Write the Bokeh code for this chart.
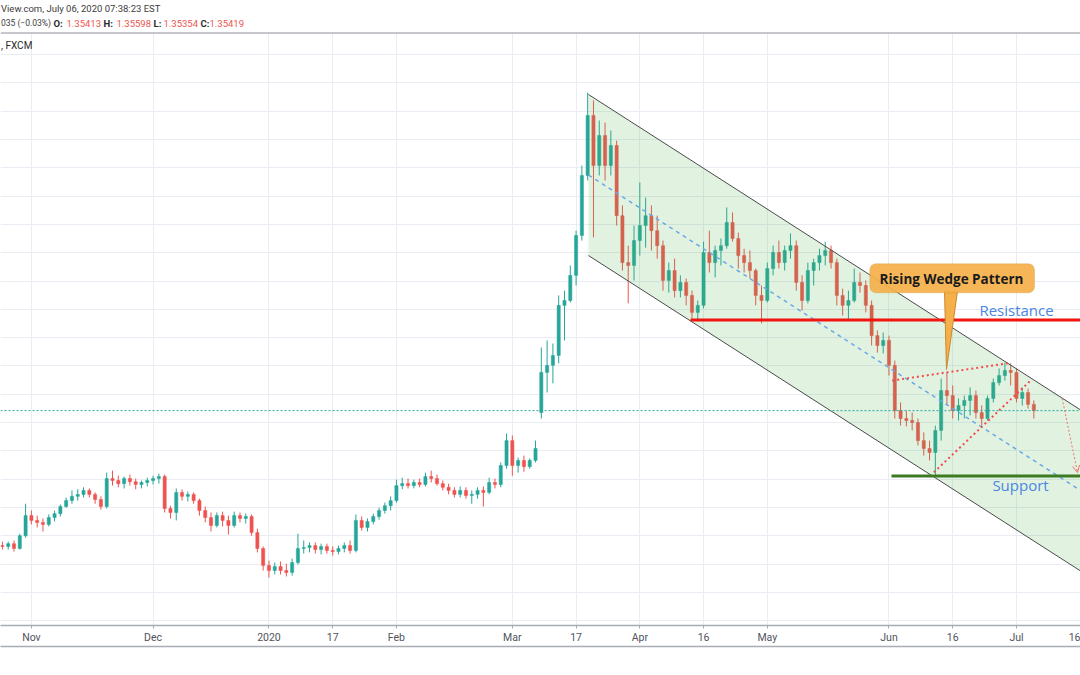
import pandas as pd
from bokeh.plotting import figure
from bokeh.models import (Range1d, FixedTicker, Grid, LinearAxis, Span, BoxAnnotation,
                          Label, Arrow, OpenHead, ColumnDataSource)
from bokeh.embed import file_html
from bokeh.resources import INLINE

# ---------------- data (USD/CAD, FXCM, daily OHLC) ----------------
holidays = ["2019-12-25", "2019-12-26", "2020-01-01"]
calendar = [d for d in pd.bdate_range("2019-10-25", "2020-07-31")
            if d.strftime("%Y-%m-%d") not in holidays]
cal_index = {d.strftime("%Y-%m-%d"): i for i, d in enumerate(calendar)}

opens = [1.3065, 1.3062, 1.3072, 1.3055, 1.3100, 1.3171, 1.3154, 1.3147, 1.3140, 1.3164,
         1.3178, 1.3203, 1.3224, 1.3239, 1.3246, 1.3260, 1.3246, 1.3228, 1.3203, 1.3302,
         1.3295, 1.3284, 1.3302, 1.3291, 1.3281, 1.3288, 1.3295, 1.3302, 1.3309, 1.3196,
         1.3182, 1.3253, 1.3239, 1.3246, 1.3224, 1.3189, 1.3164, 1.3136, 1.3171, 1.3154,
         1.3136, 1.3171, 1.3161, 1.3168, 1.3111, 1.3055, 1.2995, 1.2977, 1.2991, 1.2977,
         1.2970, 1.3005, 1.3055, 1.3058, 1.3065, 1.3051, 1.3062, 1.3048, 1.3044, 1.3055,
         1.3065, 1.3048, 1.3154, 1.3129, 1.3150, 1.3168, 1.3189, 1.3206, 1.3224, 1.3277,
         1.3284, 1.3277, 1.3288, 1.3281, 1.3309, 1.3302, 1.3284, 1.3271, 1.3260, 1.3246,
         1.3260, 1.3242, 1.3246, 1.3260, 1.3253, 1.3288, 1.3281, 1.3348, 1.3436, 1.3348,
         1.3366, 1.3344, 1.3366, 1.3535, 1.3677, 1.3702, 1.3737, 1.3914, 1.3931, 1.4020,
         1.4161, 1.4373, 1.4585, 1.4408, 1.4514, 1.4408, 1.4479, 1.4231, 1.4065, 1.4055,
         1.4143, 1.4196, 1.4231, 1.4178, 1.4125, 1.4002, 1.4037, 1.3966, 1.3995, 1.3949,
         1.3889, 1.3914, 1.4101, 1.4065, 1.4108, 1.4125, 1.4207, 1.4150, 1.4090, 1.4065,
         1.4037, 1.3949, 1.3931, 1.4044, 1.4101, 1.4065, 1.4108, 1.4125, 1.3995, 1.3931,
         1.4037, 1.4065, 1.4090, 1.4108, 1.4065, 1.3949, 1.3914, 1.3931, 1.3995, 1.3984,
         1.3914, 1.3807, 1.3772, 1.3790, 1.3702, 1.3542, 1.3514, 1.3507, 1.3500, 1.3436,
         1.3408, 1.3394, 1.3472, 1.3613, 1.3595, 1.3542, 1.3560, 1.3578, 1.3595, 1.3535,
         1.3514, 1.3585, 1.3641, 1.3666, 1.3684, 1.3677, 1.3585, 1.3606, 1.3564]
highs = [1.3079, 1.3079, 1.3083, 1.3107, 1.3213, 1.3189, 1.3171, 1.3161, 1.3175, 1.3189,
         1.3210, 1.3235, 1.3260, 1.3264, 1.3271, 1.3267, 1.3253, 1.3239, 1.3323, 1.3330,
         1.3312, 1.3309, 1.3316, 1.3302, 1.3295, 1.3305, 1.3312, 1.3319, 1.3316, 1.3206,
         1.3267, 1.3264, 1.3256, 1.3253, 1.3231, 1.3203, 1.3182, 1.3182, 1.3185, 1.3171,
         1.3185, 1.3182, 1.3178, 1.3175, 1.3125, 1.3062, 1.3012, 1.3005, 1.3009, 1.3001,
         1.3019, 1.3107, 1.3083, 1.3076, 1.3076, 1.3072, 1.3072, 1.3062, 1.3065, 1.3076,
         1.3083, 1.3175, 1.3168, 1.3161, 1.3178, 1.3199, 1.3217, 1.3239, 1.3298, 1.3305,
         1.3302, 1.3298, 1.3302, 1.3323, 1.3330, 1.3316, 1.3295, 1.3284, 1.3271, 1.3274,
         1.3271, 1.3260, 1.3271, 1.3274, 1.3305, 1.3302, 1.3359, 1.3461, 1.3454, 1.3376,
         1.3383, 1.3373, 1.3436, 1.3765, 1.3790, 1.3779, 1.3949, 1.3966, 1.4055, 1.4178,
         1.4408, 1.4666, 1.4638, 1.4567, 1.4560, 1.4532, 1.4496, 1.4267, 1.4125, 1.4196,
         1.4348, 1.4295, 1.4267, 1.4231, 1.4143, 1.4065, 1.4079, 1.4020, 1.4009, 1.3966,
         1.3931, 1.4139, 1.4178, 1.4125, 1.4150, 1.4260, 1.4242, 1.4171, 1.4114, 1.4108,
         1.4044, 1.3984, 1.4065, 1.4125, 1.4143, 1.4125, 1.4168, 1.4143, 1.4020, 1.4065,
         1.4079, 1.4114, 1.4139, 1.4125, 1.4079, 1.3973, 1.3966, 1.4044, 1.4030, 1.4002,
         1.3931, 1.3825, 1.3818, 1.3807, 1.3719, 1.3571, 1.3542, 1.3535, 1.3514, 1.3465,
         1.3436, 1.3489, 1.3655, 1.3677, 1.3631, 1.3585, 1.3595, 1.3624, 1.3613, 1.3560,
         1.3595, 1.3655, 1.3691, 1.3712, 1.3709, 1.3691, 1.3624, 1.3620, 1.3578]
lows = [1.3051, 1.3051, 1.3044, 1.3051, 1.3093, 1.3140, 1.3129, 1.3115, 1.3133, 1.3150,
        1.3168, 1.3199, 1.3213, 1.3224, 1.3235, 1.3235, 1.3213, 1.3192, 1.3196, 1.3277,
        1.3271, 1.3267, 1.3277, 1.3264, 1.3267, 1.3274, 1.3281, 1.3284, 1.3182, 1.3161,
        1.3154, 1.3224, 1.3221, 1.3213, 1.3171, 1.3147, 1.3115, 1.3129, 1.3133, 1.3104,
        1.3129, 1.3147, 1.3143, 1.3100, 1.3041, 1.2977, 1.2952, 1.2963, 1.2963, 1.2956,
        1.2959, 1.2998, 1.3037, 1.3041, 1.3037, 1.3034, 1.3037, 1.3030, 1.3034, 1.3041,
        1.3037, 1.3041, 1.3118, 1.3115, 1.3140, 1.3157, 1.3178, 1.3189, 1.3217, 1.3264,
        1.3267, 1.3267, 1.3271, 1.3274, 1.3288, 1.3277, 1.3260, 1.3246, 1.3235, 1.3235,
        1.3231, 1.3213, 1.3231, 1.3203, 1.3246, 1.3267, 1.3271, 1.3337, 1.3312, 1.3323,
        1.3326, 1.3337, 1.3359, 1.3514, 1.3606, 1.3638, 1.3709, 1.3790, 1.3924, 1.3984,
        1.4143, 1.4355, 1.4154, 1.4373, 1.4355, 1.4373, 1.4196, 1.4037, 1.3921, 1.4002,
        1.4090, 1.4118, 1.4108, 1.4079, 1.3966, 1.3959, 1.3942, 1.3942, 1.3914, 1.3867,
        1.3857, 1.3903, 1.4030, 1.4013, 1.4055, 1.4114, 1.4139, 1.4044, 1.4030, 1.4009,
        1.3914, 1.3850, 1.3924, 1.4020, 1.4044, 1.4037, 1.4079, 1.3966, 1.3896, 1.3921,
        1.3984, 1.4037, 1.4055, 1.4044, 1.3914, 1.3878, 1.3864, 1.3924, 1.3959, 1.3889,
        1.3772, 1.3747, 1.3744, 1.3666, 1.3514, 1.3489, 1.3486, 1.3472, 1.3419, 1.3383,
        1.3366, 1.3312, 1.3436, 1.3560, 1.3514, 1.3507, 1.3514, 1.3525, 1.3514, 1.3489,
        1.3507, 1.3571, 1.3631, 1.3648, 1.3631, 1.3571, 1.3560, 1.3549, 1.3514]
closes = [1.3062, 1.3072, 1.3055, 1.3100, 1.3171, 1.3154, 1.3147, 1.3140, 1.3164, 1.3178,
          1.3203, 1.3224, 1.3239, 1.3246, 1.3260, 1.3246, 1.3228, 1.3203, 1.3302, 1.3295,
          1.3284, 1.3302, 1.3291, 1.3281, 1.3288, 1.3295, 1.3302, 1.3309, 1.3196, 1.3182,
          1.3253, 1.3239, 1.3246, 1.3224, 1.3189, 1.3164, 1.3136, 1.3171, 1.3154, 1.3136,
          1.3171, 1.3161, 1.3168, 1.3111, 1.3055, 1.2995, 1.2977, 1.2991, 1.2977, 1.2970,
          1.3005, 1.3055, 1.3058, 1.3065, 1.3051, 1.3062, 1.3048, 1.3044, 1.3055, 1.3065,
          1.3048, 1.3154, 1.3129, 1.3150, 1.3168, 1.3189, 1.3206, 1.3224, 1.3277, 1.3284,
          1.3277, 1.3288, 1.3281, 1.3309, 1.3302, 1.3284, 1.3271, 1.3260, 1.3246, 1.3260,
          1.3242, 1.3246, 1.3260, 1.3253, 1.3288, 1.3281, 1.3348, 1.3436, 1.3348, 1.3366,
          1.3344, 1.3366, 1.3408, 1.3677, 1.3702, 1.3737, 1.3914, 1.3931, 1.4020, 1.4161,
          1.4373, 1.4585, 1.4408, 1.4514, 1.4408, 1.4479, 1.4231, 1.4065, 1.4055, 1.4143,
          1.4196, 1.4231, 1.4178, 1.4125, 1.4002, 1.4037, 1.3966, 1.3995, 1.3949, 1.3889,
          1.3914, 1.4101, 1.4065, 1.4108, 1.4125, 1.4207, 1.4150, 1.4090, 1.4065, 1.4037,
          1.3949, 1.3931, 1.4044, 1.4101, 1.4065, 1.4108, 1.4125, 1.3995, 1.3931, 1.4037,
          1.4065, 1.4090, 1.4108, 1.4065, 1.3949, 1.3914, 1.3931, 1.3995, 1.3984, 1.3914,
          1.3807, 1.3772, 1.3790, 1.3702, 1.3542, 1.3514, 1.3507, 1.3500, 1.3436, 1.3408,
          1.3394, 1.3472, 1.3613, 1.3595, 1.3542, 1.3560, 1.3578, 1.3595, 1.3535, 1.3514,
          1.3585, 1.3641, 1.3666, 1.3684, 1.3677, 1.3585, 1.3606, 1.3564, 1.3542]
last_close = 1.35419

tick_dates = ["2019-11-01", "2019-12-02", "2020-01-02", "2020-01-17", "2020-02-03", "2020-03-02",
              "2020-03-17", "2020-04-01", "2020-04-16", "2020-05-01", "2020-06-01", "2020-06-16",
              "2020-07-01", "2020-07-16"]
tick_labels = ["Nov", "Dec", "2020", "17", "Feb", "Mar", "17", "Apr", "16", "May", "Jun", "16",
               "Jul", "16"]
price_grid = [1.28, 1.29, 1.30, 1.31, 1.32, 1.33, 1.34, 1.35, 1.36, 1.37, 1.38, 1.39, 1.40,
              1.41, 1.42, 1.43, 1.44, 1.45, 1.46, 1.47, 1.48, 1.49]

# drawings (bar index, price)
channel_start_x = 101.14
channel_top0, channel_bot0 = 1.4659, 1.4090
channel_slope = -0.0013125          # price per bar
channel_end_x = 192.0
resistance = ([118.75, 192.0], [1.3862, 1.3862])
support = ([153.43, 192.0], [1.3311, 1.3311])
wedge_upper = ([153.55, 173.63], [1.3648, 1.3710])
wedge_lower = ([160.74, 177.42], [1.3324, 1.3648])
projection = ([182.89, 185.53], [1.3585, 1.3323])
callout_box = dict(left=149.69, right=178.11, top=1.40608, bottom=1.39583)
callout_ptr = ([162.58, 164.83, 162.92], [1.3965, 1.3965, 1.36873])
callout_text = (163.79, 1.40088, "Rising Wedge Pattern")
res_text = (175.01, 1.38958, "Resistance")
sup_text = (175.7, 1.32774, "Support")

# ---------------- layout constants ----------------
W, H = 1080, 675
FRAME_H = 625
X_START, X_END = -0.33, 186.05
Y_LO, Y_HI = 1.278269, 1.499117

def px_x(px):
    return X_START + px * (X_END - X_START) / W

def px_y(py):
    return Y_HI - py * (Y_HI - Y_LO) / FRAME_H

UP, DOWN = "#26a69a", "#ef5350"
FONT = "Open Sans"
HFONT = "Roboto"

p = figure(width=W, height=H, x_range=Range1d(X_START, X_END), y_range=Range1d(Y_LO, Y_HI),
           output_backend="svg", toolbar_location=None, y_axis_location=None,
           min_border_left=0, min_border_right=0, min_border_top=0, min_border_bottom=H - FRAME_H,
           background_fill_color="white", border_fill_color="white", outline_line_color=None)

# grid
tick_pos = [cal_index[d] for d in tick_dates]
p.xaxis.ticker = FixedTicker(ticks=tick_pos)
p.xaxis.major_label_overrides = {t: l for t, l in zip(tick_pos, tick_labels)}
p.xgrid.ticker = FixedTicker(ticks=tick_pos)
p.xgrid.grid_line_color = "#e9edf3"
p.add_layout(Grid(dimension=1, ticker=FixedTicker(ticks=price_grid), grid_line_color="#e9edf3"))

ax = p.xaxis[0]
ax.axis_line_color = "#a9acb4"
ax.axis_line_width = 1.5
ax.major_tick_line_color = "#a9acb4"
ax.major_tick_out = 3
ax.major_tick_in = 0
ax.minor_tick_out = 0
ax.minor_tick_in = 0
ax.major_label_standoff = 2
ax.major_label_text_font = HFONT
ax.major_label_text_font_size = "10.5px"
ax.major_label_text_color = "#50535e"

ax2 = LinearAxis(ticker=FixedTicker(ticks=[]), axis_line_color="#a9acb4", axis_line_width=1.5,
                 major_tick_out=0, major_tick_in=0, minor_tick_out=0, minor_tick_in=0,
                 major_label_text_font_size="0px")
p.add_layout(ax2, "below")

# candles
n = len(closes)
xs = list(range(n))
src = ColumnDataSource(dict(
    x=xs, open=opens, high=highs, low=lows, close=closes,
    top=[max(o, c) for o, c in zip(opens, closes)],
    bottom=[min(o, c) for o, c in zip(opens, closes)],
    color=[UP if c >= o else DOWN for o, c in zip(opens, closes)],
))
p.segment(x0="x", y0="low", x1="x", y1="high", source=src, line_color="color", line_width=1)
p.vbar(x="x", width=0.55, top="top", bottom="bottom", source=src,
       fill_color="color", line_color="color", line_width=0.5)

# channel
dx = channel_end_x - channel_start_x
cx = [channel_start_x, channel_end_x, channel_end_x, channel_start_x]
cy = [channel_top0, channel_top0 + channel_slope * dx, channel_bot0 + channel_slope * dx, channel_bot0]
p.patch(cx, cy, fill_color="#4caf50", fill_alpha=0.17, line_color=None)
p.line([channel_start_x, channel_end_x], [channel_top0, channel_top0 + channel_slope * dx],
       line_color="#4a4a4a", line_width=1)
p.line([channel_start_x, channel_end_x], [channel_bot0, channel_bot0 + channel_slope * dx],
       line_color="#4a4a4a", line_width=1)
mid0 = (channel_top0 + channel_bot0) / 2
p.line([channel_start_x, channel_end_x], [mid0, mid0 + channel_slope * dx],
       line_color="#6aa9e9", line_width=1.5, line_dash="4 4")

# current price
p.add_layout(Span(location=last_close, dimension="width", line_color="#26a69a",
                  line_dash="2 2", line_width=1))

# resistance / support
p.line(*resistance, line_color="#f2150f", line_width=3)
p.line(*support, line_color="#3d7a22", line_width=3)

# wedge
p.line(*wedge_upper, line_color="#f44a4a", line_width=2, line_dash="2 3")
p.line(*wedge_lower, line_color="#f44a4a", line_width=2, line_dash="2 3")
p.add_layout(Arrow(end=OpenHead(size=7, line_color="#f47070", line_width=1),
                   x_start=projection[0][0], y_start=projection[1][0],
                   x_end=projection[0][1], y_end=projection[1][1],
                   line_color="#f47070", line_width=1, line_dash="2 2"))

# callout
p.patch(*callout_ptr, fill_color="#f5b04a", line_color="#c98a2e", line_width=1)
p.add_layout(BoxAnnotation(fill_color="#f5b04a", fill_alpha=0.92, line_color="#d2922f",
                           line_width=1, border_radius=6, **callout_box))
p.add_layout(Label(x=callout_text[0], y=callout_text[1], text=callout_text[2],
                   text_align="center", text_baseline="middle", text_font=FONT,
                   text_font_style="bold", text_font_size="13.5px", text_color="#1b1b1b"))
p.add_layout(Label(x=res_text[0], y=res_text[1], text=res_text[2], text_align="center",
                   text_baseline="middle", text_font=FONT, text_font_size="15px",
                   text_color="#4a86e0"))
p.add_layout(Label(x=sup_text[0], y=sup_text[1], text=sup_text[2], text_align="center",
                   text_baseline="middle", text_font=FONT, text_font_size="15px",
                   text_color="#4a86e0"))

# header (screenshot strip above the pane)
p.add_layout(BoxAnnotation(left=X_START - 5, right=X_END + 5, top=Y_HI + 0.01, bottom=px_y(32.5),
                           fill_color="white", fill_alpha=1.0, line_color=None))
p.add_layout(Span(location=px_y(32.5), dimension="width", line_color="#b4b6bc", line_width=1.5))
p.add_layout(Label(x=px_x(0.5), y=px_y(8), text="View.com, July 06, 2020 07:38:23 EST",
                   text_baseline="middle", text_font=HFONT, text_font_size="9.5px",
                   text_color="#3c3c3c"))
header2 = [(0.5, "035 (\u22120.03%)", "#3c3c3c", "normal", "8.5px"),
           (53, "O:", "#2a2a2a", "bold", "9.5px"), (66, "1.35413", "#ef5350", "normal", "9.5px"),
           (103, "H:", "#2a2a2a", "bold", "9.5px"), (116, "1.35598", "#ef5350", "normal", "9.5px"),
           (153, "L:", "#2a2a2a", "bold", "9.5px"), (163, "1.35354", "#ef5350", "normal", "9.5px"),
           (200, "C:", "#2a2a2a", "bold", "9.5px"), (209, "1.35419", "#ef5350", "normal", "9.5px")]
for px, t, col, sty, fs in header2:
    p.add_layout(Label(x=px_x(px), y=px_y(22.5), text=t, text_baseline="middle",
                       text_font=HFONT, text_font_size=fs, text_color=col,
                       text_font_style=sty))
p.add_layout(Label(x=px_x(0.5), y=px_y(45), text=", FXCM", text_baseline="middle",
                   text_font=HFONT, text_font_size="10px", text_color="#2a2a2a"))

open("out.html", "w").write(file_html(p, INLINE))
